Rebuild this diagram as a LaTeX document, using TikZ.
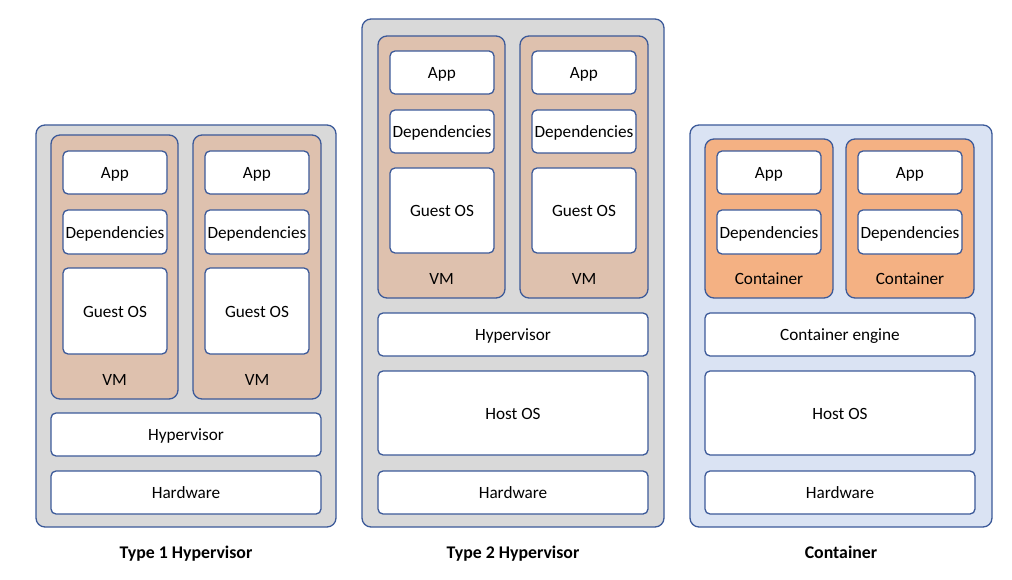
\documentclass[tikz,border=0pt]{standalone}
\usepackage{fontspec}
\setmainfont{Carlito}
\definecolor{edgeblue}{HTML}{3C5A99}
\definecolor{panelgray}{HTML}{D9D9D9}
\definecolor{panelblue}{HTML}{DAE3F3}
\definecolor{vmtan}{HTML}{DEC1AE}
\definecolor{ctorange}{HTML}{F4B183}
\tikzset{
  base/.style={draw=edgeblue, line width=1.3pt, inner sep=0pt, outer sep=0pt,
    font=\fontsize{17.2}{20}\selectfont, text height=1.24em, text depth=0pt},
  panel/.style={base, rounded corners=9pt},
  vmbox/.style={base, fill=vmtan, rounded corners=9pt},
  ctbox/.style={base, fill=ctorange, rounded corners=9pt},
  layer/.style={base, fill=white, rounded corners=5pt},
  tag/.style={font=\fontsize{17.2}{20}\selectfont, text height=1.24em, text depth=0pt},
  caption/.style={font=\fontsize{17.8}{21}\selectfont\bfseries, text height=1.2em, text depth=0pt}
}
% style, name, x1, y1, x2, y2, text
\newcommand{\blk}[7]{%
  \node[#1, minimum width={(#5-#3)*1pt}, minimum height={(#6-#4)*1pt}]
    (#2) at ({(#3+#5)/2},{(#4+#6)/2}) {#7};}

\begin{document}
\begin{tikzpicture}[x=1pt, y=-1pt]
  \useasboundingbox (0,0) rectangle (1012,580);

  % Type 1 hypervisor
  \blk{panel, fill=panelgray}{typeone}{36}{125}{336}{527}{}
  \blk{vmbox}{vma}{51}{135}{178}{399}{}
  \blk{vmbox}{vmb}{193}{135}{321}{399}{}
  \blk{layer}{appa}{63}{151}{167}{194}{App}
  \blk{layer}{depa}{63}{210}{167}{254}{Dependencies}
  \blk{layer}{osa}{63}{268}{167}{354}{Guest OS}
  \blk{layer}{appb}{205}{151}{309}{194}{App}
  \blk{layer}{depb}{205}{210}{309}{254}{Dependencies}
  \blk{layer}{osb}{205}{268}{309}{354}{Guest OS}
  \node[tag] (vmtaga) at (114.5,379) {VM};
  \node[tag] (vmtagb) at (257,379) {VM};
  \blk{layer}{hypa}{51}{413}{321}{456}{Hypervisor}
  \blk{layer}{hwa}{51}{471}{321}{514}{Hardware}
  \node[caption] (capa) at (186,552) {Type 1 Hypervisor};

  % Type 2 hypervisor
  \blk{panel, fill=panelgray}{typetwo}{362}{19}{664}{527}{}
  \blk{vmbox}{vmc}{378}{36}{505}{298}{}
  \blk{vmbox}{vmd}{520}{36}{648}{298}{}
  \blk{layer}{appc}{390}{51}{494}{94}{App}
  \blk{layer}{depc}{390}{110}{494}{153}{Dependencies}
  \blk{layer}{osc}{390}{168}{494}{253}{Guest OS}
  \blk{layer}{appd}{532}{51}{636}{94}{App}
  \blk{layer}{depd}{532}{110}{636}{153}{Dependencies}
  \blk{layer}{osd}{532}{168}{636}{253}{Guest OS}
  \node[tag] (vmtagc) at (441.5,278) {VM};
  \node[tag] (vmtagd) at (584,278) {VM};
  \blk{layer}{hypb}{378}{313}{648}{356}{Hypervisor}
  \blk{layer}{hostb}{378}{371}{648}{455}{Host OS}
  \blk{layer}{hwb}{378}{471}{648}{514}{Hardware}
  \node[caption] (capb) at (513,552) {Type 2 Hypervisor};

  % Containers
  \blk{panel, fill=panelblue}{contpanel}{690}{125}{992}{527}{}
  \blk{ctbox}{cta}{705}{139}{833}{298}{}
  \blk{ctbox}{ctb}{846}{139}{974}{298}{}
  \blk{layer}{appe}{717}{151}{821}{194}{App}
  \blk{layer}{depe}{717}{210}{821}{254}{Dependencies}
  \blk{layer}{appf}{858}{151}{962}{194}{App}
  \blk{layer}{depf}{858}{210}{962}{254}{Dependencies}
  \node[tag] (cttaga) at (769,278) {Container};
  \node[tag] (cttagb) at (910,278) {Container};
  \blk{layer}{engine}{705}{313}{975}{356}{Container engine}
  \blk{layer}{hostc}{705}{371}{975}{455}{Host OS}
  \blk{layer}{hwc}{705}{471}{975}{514}{Hardware}
  \node[caption] (capc) at (841,552) {Container};
\end{tikzpicture}
\end{document}
